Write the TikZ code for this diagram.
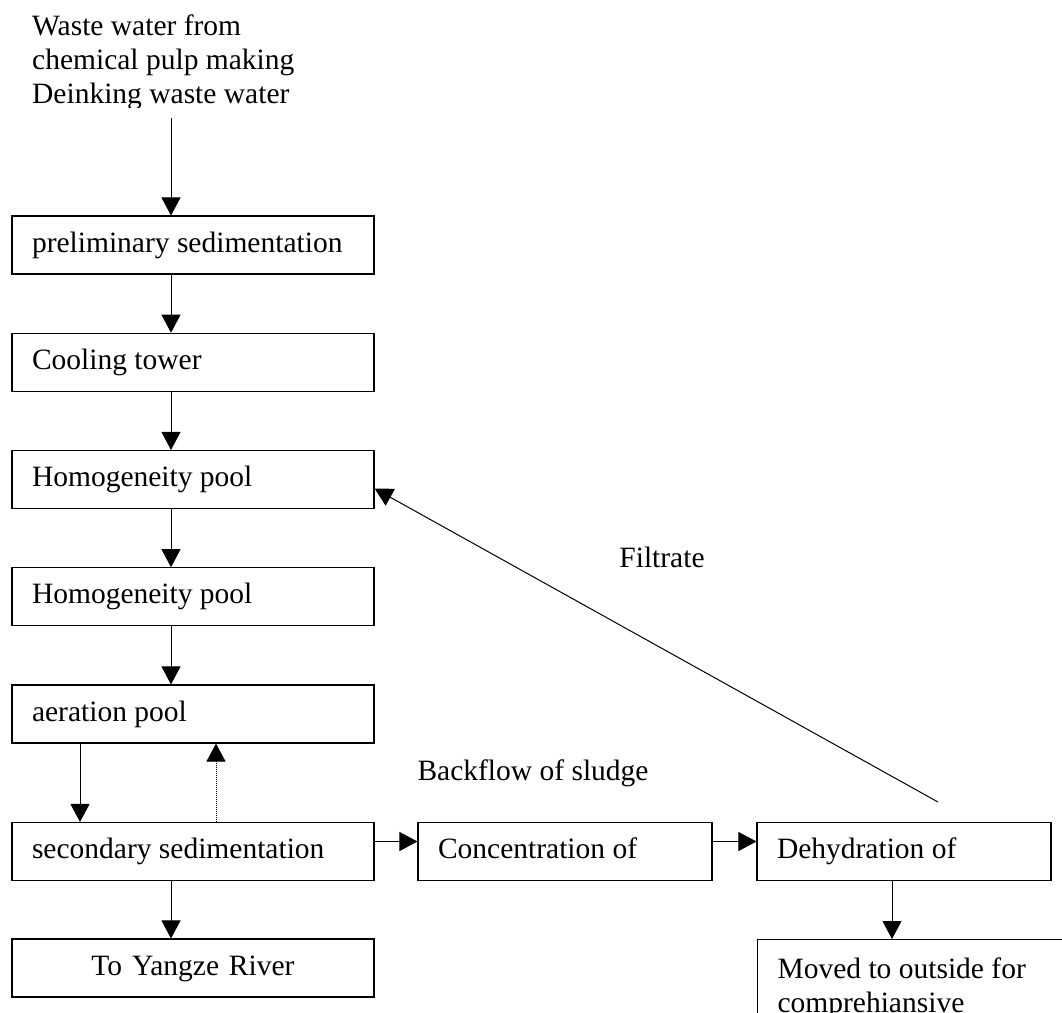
\documentclass[tikz,border=0pt]{standalone}
\usepackage{fontspec}
\setmainfont{Liberation Serif}
\usetikzlibrary{arrows.meta, positioning}

\begin{document}
\begin{tikzpicture}
  [
  x=1pt, y=-1pt, node distance = 117.25pt, on grid,
  every node/.style={font=\fontsize{29.5}{34}\selectfont},
  stage/.style={draw, line width=1.1pt, inner xsep=20pt, inner ysep=0pt, text width=322pt,
                minimum height=58pt, text height=22pt, text depth=8pt, align=flush left},
  sludge stage/.style={stage, text width=254pt},
  flow/.style={-{Triangle[length=18pt,width=19pt]}, line width=1pt},
  back flow/.style={flow, dash pattern=on 1pt off 1pt}
  ]
  \useasboundingbox (0,0) rectangle (1062,1012);
  \clip (0,0) rectangle (1062,1012);

  \begin{scope}
    \clip (0,0) rectangle (1062,107);
    \node[anchor=north west, inner sep=0pt, align=left] (source) at (32,15)
      {Waste water from\\chemical pulp making\\Deinking waste water};
  \end{scope}
  \coordinate (inlet) at (171,118);

  \node[stage]                (prelim)        at (193,245)                    {preliminary sedimentation};
  \node[stage]                (cooling)       [below=of prelim]               {Cooling tower};
  \node[stage]                (homog1)        [below=of cooling]              {Homogeneity pool};
  \node[stage]                (homog2)        [below=of homog1]               {Homogeneity pool};
  \node[stage]                (aeration)      [below=of homog2]               {aeration pool};
  \node[stage]                (secondary)     [below=137.5pt of aeration]     {secondary sedimentation};
  \node[stage, align=center]  (river)         [below=116.5pt of secondary]    {To Yangze River};
  \node[sludge stage]         (concentration) [right=372pt of secondary]      {Concentration of};
  \node[sludge stage]         (dehydration)   [right=339pt of concentration]  {Dehydration of};
  \node[stage, anchor=north west, inner ysep=17pt, text depth=60pt]
                              (moved)         at (757,939)
    {Moved to outside for\\comprehiansive};

  \node[anchor=base]          (filtrate)      at (662,567)                    {Filtrate};
  \node[anchor=base west]     (backflow)      at (414,780)                    {Backflow of sludge};

  \draw[flow] (inlet) -- ([xshift=-22pt]prelim.north);
  \foreach \a/\b in {prelim/cooling, cooling/homog1, homog1/homog2, homog2/aeration, secondary/river}
    \draw[flow] ([xshift=-22pt]\a.south) -- ([xshift=-22pt]\b.north);
  \draw[flow] ([xshift=-113pt]aeration.south) -- ([xshift=-113pt]secondary.north);
  \draw[back flow] ([xshift=23pt]secondary.north) -- ([xshift=23pt]aeration.south);
  \draw[flow] ([yshift=10pt]secondary.east) -- ([yshift=10pt]concentration.west);
  \draw[flow] ([yshift=10pt]concentration.east) -- ([yshift=10pt]dehydration.west);
  \draw[flow] ([xshift=-12pt]dehydration.south) -- ([xshift=-12pt]dehydration.south |- moved.north);

  \coordinate (filtrate end) at (938,802);
  \draw[flow] (filtrate end) -- ([yshift=-9pt]homog1.east);
\end{tikzpicture}
\end{document}
